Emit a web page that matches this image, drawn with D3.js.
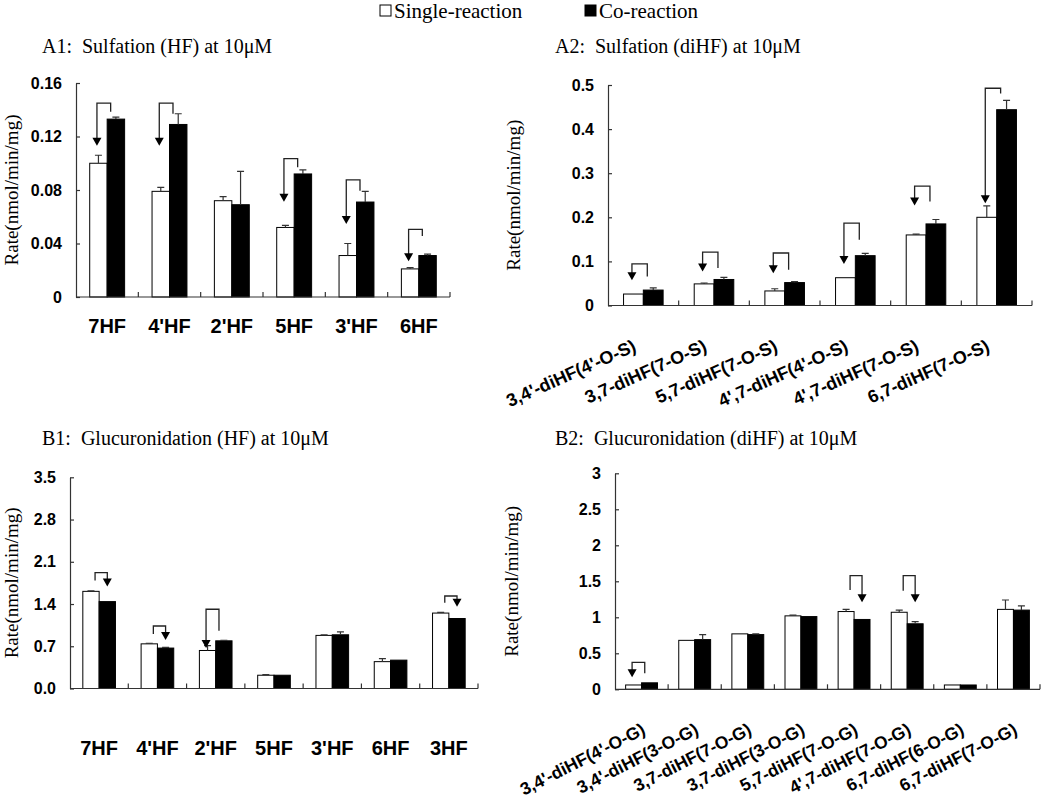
<!DOCTYPE html>
<html><head><meta charset="utf-8">
<script src="https://cdn.jsdelivr.net/npm/d3@7"></script>
<style>body{margin:0;background:#fff}</style>
</head><body><svg id="c" width="1050" height="797"></svg>
<script>
// ---------- DATA ----------
const seriesNames = ["Single-reaction", "Co-reaction"];

// A1: Sulfation (HF)
const a1Cats = ["7HF", "4'HF", "2'HF", "5HF", "3'HF", "6HF"];
const a1Single = [0.100, 0.079, 0.072, 0.052, 0.031, 0.021];
const a1SingleErr = [0.006, 0.003, 0.003, 0.0015, 0.009, 0.001];
const a1Co = [0.133, 0.129, 0.069, 0.092, 0.071, 0.031];
const a1CoErr = [0.0015, 0.008, 0.025, 0.003, 0.008, 0.001];
const a1Ticks = [0, 0.04, 0.08, 0.12, 0.16];
const a1TickLabels = ["0", "0.04", "0.08", "0.12", "0.16"];
// arrows: [category index, bracket top, other-leg bottom, arrow tip, target (0 single / 1 co)]
const a1Arrows = [[0, 0.145, 0.1385, 0.113, 0], [1, 0.145, 0.137, 0.113, 0], [3, 0.1034, 0.097, 0.0713, 0], [4, 0.0875, 0.0795, 0.0546, 0], [5, 0.0506, 0.0456, 0.0267, 0]];

// A2: Sulfation (diHF)
const a2Cats = ["3,4'-diHF(4'-O-S)", "3,7-diHF(7-O-S)", "5,7-diHF(7-O-S)", "4',7-diHF(4'-O-S)", "4',7-diHF(7-O-S)", "6,7-diHF(7-O-S)"];
const a2Single = [0.026, 0.049, 0.033, 0.063, 0.160, 0.200];
const a2SingleErr = [0, 0.002, 0.005, 0, 0.002, 0.026];
const a2Co = [0.035, 0.059, 0.052, 0.113, 0.185, 0.444];
const a2CoErr = [0.005, 0.005, 0.002, 0.005, 0.010, 0.021];
const a2Ticks = [0, 0.1, 0.2, 0.3, 0.4, 0.5];
const a2TickLabels = ["0", "0.1", "0.2", "0.3", "0.4", "0.5"];
const a2Arrows = [[0, 0.0945, 0.066, 0.057, 0], [1, 0.121, 0.085, 0.077, 0], [2, 0.119, 0.081, 0.073, 0], [3, 0.187, 0.149, 0.094, 0], [4, 0.2705, 0.2357, 0.2266, 0], [5, 0.4926, 0.481, 0.232, 0]];

// B1: Glucuronidation (HF)
const b1Cats = ["7HF", "4'HF", "2'HF", "5HF", "3'HF", "6HF", "3HF"];
const b1Single = [1.61, 0.74, 0.63, 0.22, 0.88, 0.445, 1.25];
const b1SingleErr = [0.01, 0.01, 0.08, 0.01, 0.01, 0.05, 0.01];
const b1Co = [1.44, 0.67, 0.79, 0.22, 0.89, 0.47, 1.16];
const b1CoErr = [0, 0.01, 0.01, 0, 0.05, 0, 0];
const b1Ticks = [0, 0.7, 1.4, 2.1, 2.8, 3.5];
const b1TickLabels = ["0.0", "0.7", "1.4", "2.1", "2.8", "3.5"];
const b1Arrows = [[0, 1.92, 1.79, 1.69, 1], [1, 1.036, 0.903, 0.804, 1], [2, 1.313, 0.958, 0.67, 0], [6, 1.533, 1.42, 1.356, 1]];

// B2: Glucuronidation (diHF)
const b2Cats = ["3,4'-diHF(4'-O-G)", "3,4'-diHF(3-O-G)", "3,7-diHF(7-O-G)", "3,7-diHF(3-O-G)", "5,7-diHF(7-O-G)", "4',7-diHF(7-O-G)", "6,7-diHF(6-O-G)", "6,7-diHF(7-O-G)"];
const b2Single = [0.06, 0.68, 0.77, 1.02, 1.08, 1.07, 0.06, 1.11];
const b2SingleErr = [0, 0, 0, 0.01, 0.03, 0.03, 0, 0.13];
const b2Co = [0.09, 0.69, 0.76, 1.01, 0.97, 0.91, 0.06, 1.10];
const b2CoErr = [0, 0.07, 0.01, 0, 0, 0.03, 0, 0.06];
const b2Ticks = [0, 0.5, 1, 1.5, 2, 2.5, 3];
const b2TickLabels = ["0", "0.5", "1", "1.5", "2", "2.5", "3"];
const b2Arrows = [[0, 0.375, 0.222, 0.167, 0], [4, 1.578, 1.379, 1.208, 1], [5, 1.578, 1.37, 1.208, 1]];

const titles = ["A1:  Sulfation (HF) at 10μM", "A2:  Sulfation (diHF) at 10μM", "B1:  Glucuronidation (HF) at 10μM", "B2:  Glucuronidation (diHF) at 10μM"];
const yAxisTitle = "Rate(nmol/min/mg)";

// ---------- LAYOUT ----------
const panels = [
  {title: titles[0], cats: a1Cats, single: a1Single, singleErr: a1SingleErr, co: a1Co, coErr: a1CoErr, ticks: a1Ticks, tickLabels: a1TickLabels, arrows: a1Arrows,
   x0: 76, x1: 450, y0: 297, yTop: 83, barFrac: 0.28, titleX: 42, titleY: 53, ylabX: 18, rotate: 0, catFont: 20, catDy: 36, catDx: 0},
  {title: titles[1], cats: a2Cats, single: a2Single, singleErr: a2SingleErr, co: a2Co, coErr: a2CoErr, ticks: a2Ticks, tickLabels: a2TickLabels, arrows: a2Arrows,
   x0: 608, x1: 1032, y0: 305.5, yTop: 85, barFrac: 0.28, titleX: 555, titleY: 53, ylabX: 520, rotate: -24, catFont: 18, catDy: 45, catDx: -6},
  {title: titles[2], cats: b1Cats, single: b1Single, singleErr: b1SingleErr, co: b1Co, coErr: b1CoErr, ticks: b1Ticks, tickLabels: b1TickLabels, arrows: b1Arrows,
   x0: 70, x1: 478, y0: 688.5, yTop: 477.3, barFrac: 0.28, titleX: 42, titleY: 445, ylabX: 18, rotate: 0, catFont: 20, catDy: 66, catDx: 0},
  {title: titles[3], cats: b2Cats, single: b2Single, singleErr: b2SingleErr, co: b2Co, coErr: b2CoErr, ticks: b2Ticks, tickLabels: b2TickLabels, arrows: b2Arrows,
   x0: 615, x1: 1040, y0: 689.3, yTop: 473.3, barFrac: 0.30, titleX: 555, titleY: 445, ylabX: 518, rotate: -27, catFont: 17.5, catDy: 44, catDx: 5}
];

const SERIF = "'Liberation Serif','Times New Roman',serif";
const SANS = "'Liberation Sans',Arial,sans-serif";
const svg = d3.select("#c");

function drawPanel(p) {
  const g = svg.append("g");
  const x = d3.scaleBand().domain(p.cats).range([p.x0, p.x1]);
  const y = d3.scaleLinear().domain([0, p.ticks[p.ticks.length - 1]]).range([p.y0, p.yTop]);
  const bw = x.bandwidth() * p.barFrac;
  const cx = c => x(c) + x.bandwidth() / 2;

  const rows = p.cats.map((c, i) => ({c, s: p.single[i], se: p.singleErr[i], k: p.co[i], ke: p.coErr[i]}));

  // bars
  g.selectAll("rect.s").data(rows).join("rect").attr("class", "s")
    .attr("x", d => cx(d.c) - bw).attr("y", d => y(d.s)).attr("width", bw).attr("height", d => y(0) - y(d.s))
    .attr("fill", "#fff").attr("stroke", "#000").attr("stroke-width", 1);
  g.selectAll("rect.k").data(rows).join("rect").attr("class", "k")
    .attr("x", d => cx(d.c)).attr("y", d => y(d.k)).attr("width", bw).attr("height", d => y(0) - y(d.k))
    .attr("fill", "#000").attr("stroke", "#000").attr("stroke-width", 1);

  // error bars (upper only)
  const errs = [];
  rows.forEach(d => {
    if (d.se > 0) errs.push({x: cx(d.c) - bw / 2, v: d.s, e: d.se});
    if (d.ke > 0) errs.push({x: cx(d.c) + bw / 2, v: d.k, e: d.ke});
  });
  g.selectAll("path.err").data(errs).join("path").attr("class", "err")
    .attr("d", d => `M${d.x},${y(d.v)}V${y(d.v + d.e)}M${d.x - 3.5},${y(d.v + d.e)}H${d.x + 3.5}`)
    .attr("stroke", "#333").attr("stroke-width", 1.2).attr("fill", "none");

  // y axis
  const ya = d3.axisLeft(y).tickValues(p.ticks).tickFormat((d, i) => p.tickLabels[i]).tickSizeInner(-4).tickSizeOuter(0).tickPadding(14);
  const yg = g.append("g").attr("transform", `translate(${p.x0},0)`).call(ya);
  yg.selectAll("path,line").attr("stroke", "#333").attr("stroke-width", 1.2);
  yg.selectAll("text").attr("font-family", SANS).attr("font-weight", "bold").attr("font-size", 16).attr("fill", "#000");

  // x axis line + boundary ticks
  const bounds = p.cats.map(c => x(c)).concat([p.x1]);
  g.append("path").attr("d", `M${p.x0},${y(0)}H${p.x1}`).attr("stroke", "#333").attr("stroke-width", 1.2);
  g.selectAll("line.xt").data(bounds.slice(1)).join("line").attr("class", "xt")
    .attr("x1", d => d).attr("x2", d => d).attr("y1", y(0)).attr("y2", y(0) - 5)
    .attr("stroke", "#333").attr("stroke-width", 1.2);

  // category labels
  const lab = g.selectAll("text.cat").data(p.cats).join("text").attr("class", "cat")
    .attr("font-family", SANS).attr("font-weight", "bold").attr("font-size", p.catFont).attr("fill", "#000")
    .text(d => d);
  if (p.rotate === 0) {
    lab.attr("x", d => cx(d)).attr("y", y(0) + p.catDy).attr("text-anchor", "middle");
  } else {
    lab.attr("text-anchor", "end")
      .attr("transform", d => `translate(${cx(d) + p.catDx},${y(0) + p.catDy}) rotate(${p.rotate})`);
  }

  // arrows (bracket + arrowhead)
  p.arrows.forEach(([i, top, ob, tip, target]) => {
    const c = cx(p.cats[i]);
    const wc = c - bw / 2, kc = c + bw / 2;
    let tx, ox;
    if (target === 0) { tx = wc - 1.5; ox = kc - bw * 0.3; } else { tx = kc; ox = wc + bw * 0.25; }
    const yt = y(tip);
    g.append("path").attr("d", `M${ox},${y(ob)}V${y(top)}H${tx}V${yt - 7}`)
      .attr("stroke", "#222").attr("stroke-width", 1.3).attr("fill", "none");
    g.append("path").attr("d", `M${tx - 4.5},${yt - 8}L${tx + 4.5},${yt - 8}L${tx},${yt}Z`).attr("fill", "#000");
  });

  // title
  g.append("text").attr("x", p.titleX).attr("y", p.titleY).attr("font-family", SERIF).attr("font-size", 20)
    .attr("fill", "#000").text(p.title).style("white-space", "pre");

  // y axis title
  g.append("text").attr("transform", `translate(${p.ylabX},${(p.y0 + p.yTop) / 2}) rotate(-90)`)
    .attr("text-anchor", "middle").attr("font-family", SERIF).attr("font-size", 19).attr("fill", "#000").text(yAxisTitle);
}

panels.forEach(drawPanel);

// legend
const legend = svg.append("g");
const legX = [380, 585];
seriesNames.forEach((n, i) => {
  legend.append("rect").attr("x", legX[i]).attr("y", 5).attr("width", 11).attr("height", 11)
    .attr("fill", i === 0 ? "#fff" : "#000").attr("stroke", "#000").attr("stroke-width", 1);
  legend.append("text").attr("x", legX[i] + 14).attr("y", 18).attr("font-family", SERIF).attr("font-size", 21)
    .attr("fill", "#000").text(n);
});
</script></body></html>
